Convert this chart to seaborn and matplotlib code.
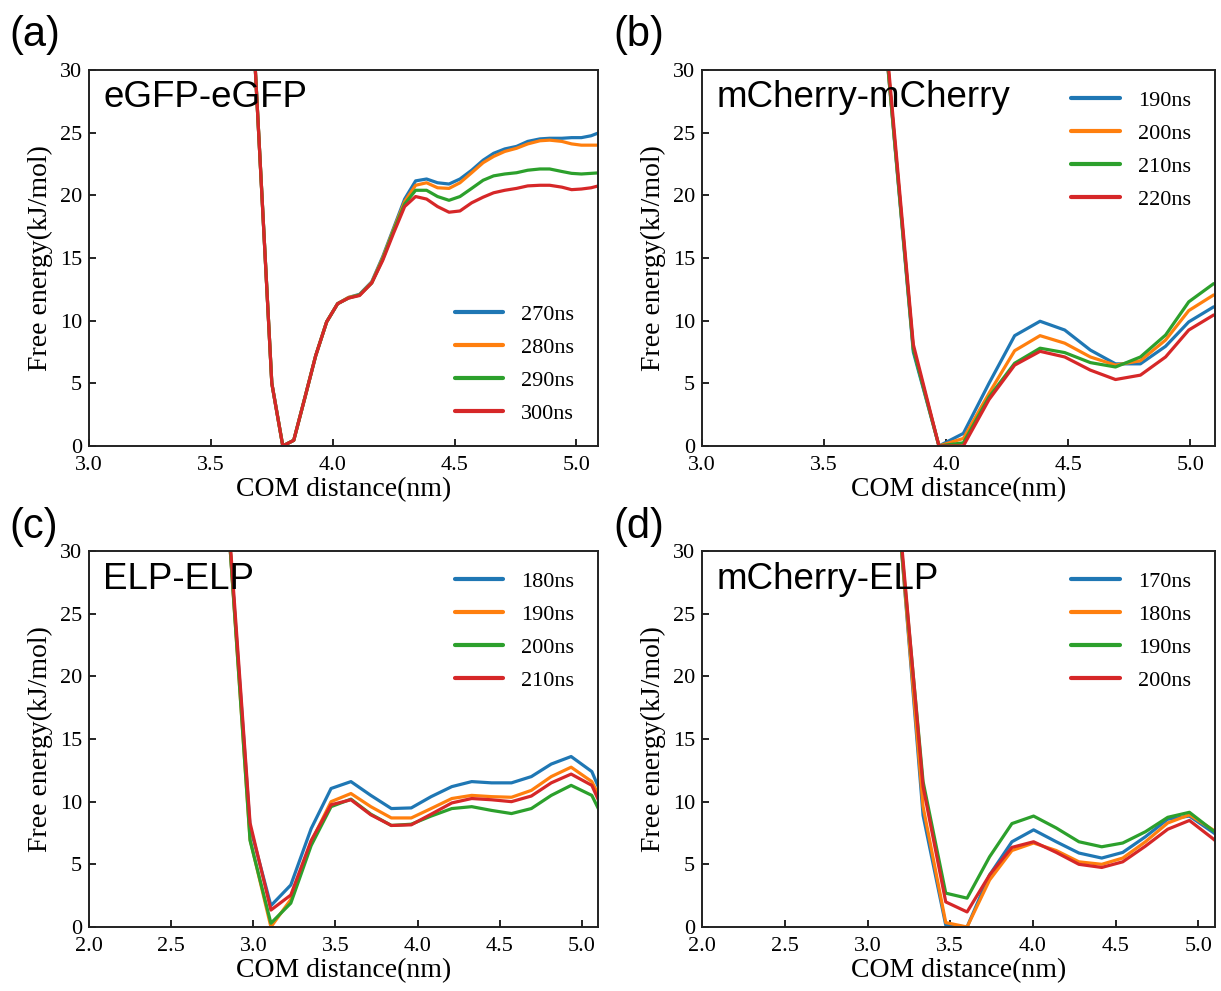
import numpy as np
import pandas as pd
import matplotlib
matplotlib.use('Agg')
import matplotlib.pyplot as plt
import seaborn as sns

sns.set_theme(style='white')
plt.rcParams['font.family'] = ['Liberation Serif', 'DejaVu Serif']
plt.rcParams['axes.unicode_minus'] = False
plt.rcParams['text.color'] = 'black'
plt.rcParams['axes.labelcolor'] = 'black'
plt.rcParams['xtick.color'] = 'black'
plt.rcParams['ytick.color'] = 'black'

# ---------------------------------------------------------------------------
# Data (free energy in kJ/mol vs COM distance in nm)
# ---------------------------------------------------------------------------

# (a) eGFP-eGFP
x_a = [3.65, 3.70, 3.75, 3.795, 3.84, 3.885, 3.93, 3.975, 4.02, 4.065, 4.11,
       4.16, 4.205, 4.25, 4.295, 4.34, 4.385, 4.43, 4.477, 4.522, 4.57, 4.617,
       4.66, 4.706, 4.754, 4.80, 4.85, 4.89, 4.94, 4.98, 5.02, 5.06, 5.10]
a_270 = [42, 23.5, 5.0, 0.0, 0.45, 3.8, 7.2, 9.9, 11.35, 11.85, 12.1, 13.1, 15.1, 17.4,
         19.7, 21.15, 21.3, 21.0, 20.9, 21.3, 22.0, 22.8, 23.35, 23.7, 23.9, 24.3,
         24.5, 24.55, 24.55, 24.6, 24.6, 24.75, 25.05]
a_280 = [42, 23.5, 5.0, 0.0, 0.45, 3.8, 7.2, 9.9, 11.35, 11.85, 12.05, 13.05, 15.0, 17.3,
         19.5, 20.8, 21.0, 20.6, 20.55, 21.0, 21.8, 22.6, 23.1, 23.5, 23.75, 24.1,
         24.35, 24.4, 24.3, 24.1, 24.0, 24.0, 24.0]
a_290 = [42, 23.5, 5.0, 0.0, 0.45, 3.8, 7.2, 9.9, 11.35, 11.8, 12.05, 13.0, 14.9, 17.2,
         19.3, 20.4, 20.4, 19.9, 19.6, 19.9, 20.55, 21.2, 21.55, 21.7, 21.8, 22.0,
         22.1, 22.1, 21.9, 21.75, 21.7, 21.75, 21.8]
a_300 = [42, 23.5, 5.0, 0.0, 0.45, 3.8, 7.2, 9.9, 11.35, 11.8, 12.0, 13.0, 14.8, 17.0,
         19.1, 19.9, 19.7, 19.1, 18.65, 18.75, 19.4, 19.85, 20.2, 20.4, 20.55, 20.75,
         20.8, 20.8, 20.65, 20.45, 20.5, 20.6, 20.8]

# (b) mCherry-mCherry
x_b = [3.66, 3.76, 3.865, 3.97, 4.07, 4.175, 4.28, 4.384, 4.485, 4.59, 4.693,
       4.795, 4.898, 4.993, 5.095]
b_190 = [50, 30.4, 7.5, 0.0, 1.0, 5.0, 8.8, 9.95, 9.25, 7.65, 6.55, 6.55, 7.95, 9.9, 11.1]
b_200 = [50, 30.5, 7.8, 0.0, 0.6, 4.2, 7.6, 8.8, 8.2, 7.1, 6.45, 6.8, 8.45, 10.8, 12.05]
b_210 = [50, 30.5, 7.7, 0.0, 0.25, 3.9, 6.6, 7.8, 7.45, 6.65, 6.3, 7.1, 8.85, 11.5, 12.95]
b_220 = [50, 31.0, 8.1, 0.0, 0.0, 3.7, 6.45, 7.55, 7.1, 6.05, 5.3, 5.65, 7.1, 9.25, 10.45]

# (c) ELP-ELP
x_c = [2.74, 2.86, 2.98, 3.107, 3.228, 3.352, 3.473, 3.594, 3.715, 3.84, 3.961,
       4.082, 4.208, 4.329, 4.45, 4.571, 4.692, 4.813, 4.934, 5.06, 5.18]
c_180 = [55, 30.0, 8.0, 1.7, 3.35, 7.85, 11.05, 11.6, 10.5, 9.45, 9.5, 10.4, 11.2,
         11.6, 11.5, 11.5, 12.0, 13.0, 13.6, 12.4, 8.7]
c_190 = [55, 30.0, 7.0, 0.0, 2.2, 6.8, 10.0, 10.65, 9.6, 8.7, 8.7, 9.45, 10.25,
         10.5, 10.4, 10.35, 10.9, 12.0, 12.75, 11.6, 8.5]
c_200 = [55, 30.0, 6.9, 0.3, 1.9, 6.5, 9.6, 10.2, 9.0, 8.1, 8.2, 8.85, 9.45,
         9.6, 9.3, 9.05, 9.45, 10.5, 11.3, 10.5, 7.3]
c_210 = [55, 30.5, 8.3, 1.35, 2.55, 6.9, 9.75, 10.15, 8.95, 8.1, 8.15, 9.0, 9.9,
         10.25, 10.15, 10.0, 10.45, 11.5, 12.2, 11.3, 7.8]

# (d) mCherry-ELP
x_d = [3.20, 3.336, 3.473, 3.602, 3.738, 3.873, 4.004, 4.141, 4.278, 4.416, 4.543,
       4.68, 4.815, 4.946, 5.083, 5.22]
d_170 = [31.0, 8.9, 0.15, 0.0, 4.15, 6.8, 7.75, 6.8, 5.9, 5.5, 5.95, 7.2, 8.6, 8.85, 7.6, 6.3]
d_180 = [31.0, 9.6, 0.35, 0.0, 3.75, 6.1, 6.7, 6.1, 5.2, 5.0, 5.5, 6.8, 8.3, 8.95, 7.8, 6.6]
d_190 = [31.0, 11.6, 2.7, 2.3, 5.6, 8.25, 8.85, 7.9, 6.8, 6.4, 6.7, 7.6, 8.75, 9.15, 7.75, 6.5]
d_200 = [31.5, 11.2, 2.0, 1.2, 4.15, 6.35, 6.8, 5.95, 5.0, 4.75, 5.2, 6.45, 7.8, 8.5, 7.1, 5.6]

panels = [
    ('(a)', 'eGFP-eGFP', x_a, {'270ns': a_270, '280ns': a_280, '290ns': a_290, '300ns': a_300},
     (3.0, 5.09), np.arange(3.0, 5.01, 0.5), 'lower right'),
    ('(b)', 'mCherry-mCherry', x_b, {'190ns': b_190, '200ns': b_200, '210ns': b_210, '220ns': b_220},
     (3.0, 5.1), np.arange(3.0, 5.01, 0.5), 'upper right'),
    ('(c)', 'ELP-ELP', x_c, {'180ns': c_180, '190ns': c_190, '200ns': c_200, '210ns': c_210},
     (2.0, 5.1), np.arange(2.0, 5.01, 0.5), 'upper right'),
    ('(d)', 'mCherry-ELP', x_d, {'170ns': d_170, '180ns': d_180, '190ns': d_190, '200ns': d_200},
     (2.0, 5.1), np.arange(2.0, 5.01, 0.5), 'upper right'),
]

# axes rectangles in figure fractions: left, bottom, width, height
rects = [
    [0.0729, 0.5500, 0.4172, 0.3794],
    [0.5750, 0.5500, 0.4200, 0.3794],
    [0.0729, 0.0646, 0.4172, 0.3794],
    [0.5750, 0.0646, 0.4200, 0.3794],
]
label_pos = [(0.008, 0.985), (0.502, 0.985), (0.008, 0.488), (0.502, 0.488)]

colors = sns.color_palette('tab10')[:4]

fig = plt.figure(figsize=(12.21, 9.91), dpi=100)

for (plabel, title, xs, series, xlim, xticks, legloc), rect, lpos in zip(panels, rects, label_pos):
    ax = fig.add_axes(rect)
    df = pd.DataFrame({'x': np.tile(xs, len(series)),
                       'y': np.concatenate([series[k] for k in series]),
                       'time': np.repeat(list(series.keys()), len(xs))})
    sns.lineplot(data=df, x='x', y='y', hue='time', palette=colors, linewidth=2.3,
                 ax=ax, legend=True, sort=False)
    ax.set_xlim(*xlim)
    ax.set_ylim(0, 30)
    ax.set_xticks(xticks)
    ax.set_xticklabels([f'{t:.1f}' for t in xticks])
    ax.set_yticks(np.arange(0, 31, 5))
    ax.tick_params(direction='in', length=5, width=1.2, labelsize=16,
                   bottom=True, left=True, top=False, right=False)
    ax.tick_params(axis='x', pad=7)
    ax.tick_params(axis='y', pad=5)
    for sp in ax.spines.values():
        sp.set_color('#222222')
        sp.set_linewidth(1.4)
    ax.set_xlabel('COM distance(nm)', fontsize=20, labelpad=2)
    ax.set_ylabel('Free energy(kJ/mol)', fontsize=20, labelpad=5)

    handles, labels = ax.get_legend_handles_labels()
    if legloc == 'lower right':
        leg = ax.legend(handles, labels, loc='lower right', bbox_to_anchor=(0.97, 0.034),
                        frameon=False, fontsize=16, handlelength=2.2, handletextpad=0.8,
                        labelspacing=0.56, borderaxespad=0)
    else:
        leg = ax.legend(handles, labels, loc='upper right', bbox_to_anchor=(0.97, 0.97),
                        frameon=False, fontsize=16, handlelength=2.2, handletextpad=0.8,
                        labelspacing=0.56, borderaxespad=0)
    for line in leg.get_lines():
        line.set_linewidth(3.0)

    ax.text(0.028, 0.972, title, transform=ax.transAxes, ha='left', va='top',
            fontsize=26.5, color='black', family=['Liberation Sans', 'DejaVu Sans'])
    fig.text(lpos[0], lpos[1], plabel, ha='left', va='top', fontsize=30, color='black',
             family=['Liberation Sans', 'DejaVu Sans'])

fig.savefig('out.png', dpi=100, facecolor='white')
